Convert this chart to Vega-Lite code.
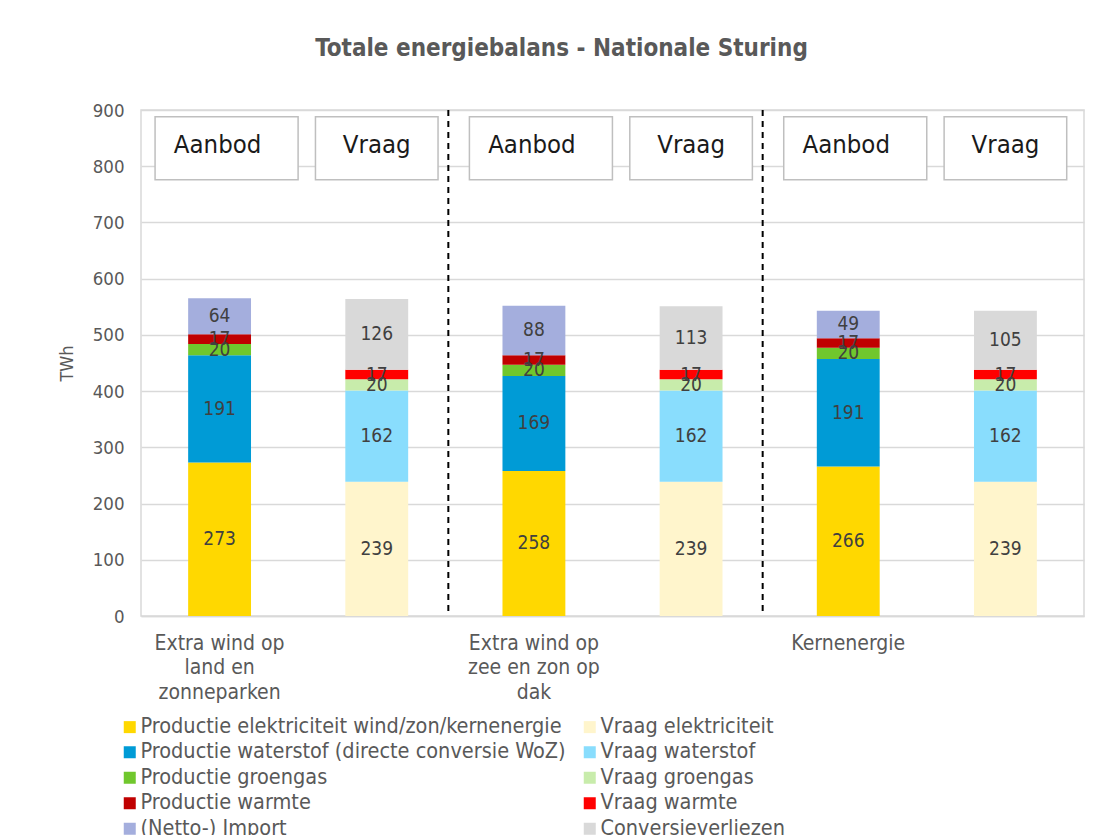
{
  "$schema": "https://vega.github.io/schema/vega-lite/v6.json",
  "width": 943,
  "height": 506,
  "padding": {"left": 58, "top": 37, "right": 16, "bottom": 0},
  "background": "white",
  "title": {
    "text": "Totale energiebalans - Nationale Sturing",
    "fontSize": 24,
    "font": "DejaVu Sans Condensed, DejaVu Sans, sans-serif",
    "fontWeight": "bold",
    "color": "#595959",
    "offset": 40,
    "dx": -51
  },
  "config": {
    "font": "DejaVu Sans Condensed, DejaVu Sans, sans-serif",
    "view": {"stroke": "#d9d9d9", "strokeWidth": 1.5}
  },
  "datasets": {
    "bars": [
      {"bar": "1", "cat": "Productie elektriciteit wind/zon/kernenergie", "order": 1, "value": 273},
      {"bar": "1", "cat": "Productie waterstof (directe conversie WoZ)", "order": 2, "value": 191},
      {"bar": "1", "cat": "Productie groengas", "order": 3, "value": 20},
      {"bar": "1", "cat": "Productie warmte", "order": 4, "value": 17},
      {"bar": "1", "cat": "(Netto-) Import", "order": 5, "value": 64},
      {"bar": "2", "cat": "Vraag elektriciteit", "order": 1, "value": 239},
      {"bar": "2", "cat": "Vraag waterstof", "order": 2, "value": 162},
      {"bar": "2", "cat": "Vraag groengas", "order": 3, "value": 20},
      {"bar": "2", "cat": "Vraag warmte", "order": 4, "value": 17},
      {"bar": "2", "cat": "Conversieverliezen", "order": 5, "value": 126},
      {"bar": "3", "cat": "Productie elektriciteit wind/zon/kernenergie", "order": 1, "value": 258},
      {"bar": "3", "cat": "Productie waterstof (directe conversie WoZ)", "order": 2, "value": 169},
      {"bar": "3", "cat": "Productie groengas", "order": 3, "value": 20},
      {"bar": "3", "cat": "Productie warmte", "order": 4, "value": 17},
      {"bar": "3", "cat": "(Netto-) Import", "order": 5, "value": 88},
      {"bar": "4", "cat": "Vraag elektriciteit", "order": 1, "value": 239},
      {"bar": "4", "cat": "Vraag waterstof", "order": 2, "value": 162},
      {"bar": "4", "cat": "Vraag groengas", "order": 3, "value": 20},
      {"bar": "4", "cat": "Vraag warmte", "order": 4, "value": 17},
      {"bar": "4", "cat": "Conversieverliezen", "order": 5, "value": 113},
      {"bar": "5", "cat": "Productie elektriciteit wind/zon/kernenergie", "order": 1, "value": 266},
      {"bar": "5", "cat": "Productie waterstof (directe conversie WoZ)", "order": 2, "value": 191},
      {"bar": "5", "cat": "Productie groengas", "order": 3, "value": 20},
      {"bar": "5", "cat": "Productie warmte", "order": 4, "value": 17},
      {"bar": "5", "cat": "(Netto-) Import", "order": 5, "value": 49},
      {"bar": "6", "cat": "Vraag elektriciteit", "order": 1, "value": 239},
      {"bar": "6", "cat": "Vraag waterstof", "order": 2, "value": 162},
      {"bar": "6", "cat": "Vraag groengas", "order": 3, "value": 20},
      {"bar": "6", "cat": "Vraag warmte", "order": 4, "value": 17},
      {"bar": "6", "cat": "Conversieverliezen", "order": 5, "value": 105}
    ],
    "dividers": [{"bar": "3"}, {"bar": "5"}],
    "aanbod": [{"bar": "1", "label": "Aanbod"}, {"bar": "3", "label": "Aanbod"}, {"bar": "5", "label": "Aanbod"}],
    "vraag": [{"bar": "2", "label": "Vraag"}, {"bar": "4", "label": "Vraag"}, {"bar": "6", "label": "Vraag"}]
  },
  "layer": [
    {
      "data": {"name": "bars"},
      "transform": [
        {"stack": "value", "groupby": ["bar"], "sort": [{"field": "order"}], "as": ["y0", "y1"]}
      ],
      "mark": {"type": "bar", "width": {"band": 0.4}},
      "encoding": {
        "x": {
          "field": "bar", "type": "nominal",
          "scale": {"domain": ["1", "2", "3", "4", "5", "6"], "paddingInner": 0, "paddingOuter": 0},
          "axis": {
            "title": null,
            "labelExpr": "datum.value == '1' ? ['Extra wind op', 'land en', 'zonneparken'] : datum.value == '3' ? ['Extra wind op', 'zee en zon op', 'dak'] : datum.value == '5' ? 'Kernenergie' : ''",
            "labelAngle": 0,
            "labelFontSize": 21,
            "labelColor": "#595959",
            "labelPadding": 16,
            "labelLineHeight": 24.5,
            "labelOverlap": false,
            "ticks": false,
            "domainColor": "#d9d9d9",
            "domainWidth": 1.5
          }
        },
        "y": {
          "field": "y0", "type": "quantitative",
          "scale": {"domain": [0, 900]},
          "axis": {
            "title": "TWh",
            "titleFontSize": 18,
            "titleFontWeight": "normal",
            "titleColor": "#595959",
            "titlePadding": 16,
            "values": [0, 100, 200, 300, 400, 500, 600, 700, 800, 900],
            "labelFontSize": 18.5,
            "labelColor": "#595959",
            "labelPadding": 17,
            "ticks": false,
            "domain": false,
            "gridColor": "#d9d9d9",
            "gridWidth": 1.5
          }
        },
        "y2": {"field": "y1"},
        "color": {
          "field": "cat", "type": "nominal",
          "scale": {
            "domain": [
              "Productie elektriciteit wind/zon/kernenergie", "Vraag elektriciteit",
              "Productie waterstof (directe conversie WoZ)", "Vraag waterstof",
              "Productie groengas", "Vraag groengas",
              "Productie warmte", "Vraag warmte",
              "(Netto-) Import", "Conversieverliezen"
            ],
            "range": [
              "#ffd800", "#fff5cc",
              "#009bd6", "#89ddfd",
              "#70c72d", "#c8ecab",
              "#c00000", "#ff0000",
              "#a4aedd", "#d9d9d9"
            ]
          },
          "legend": {
            "title": null,
            "orient": "none",
            "legendX": -22,
            "legendY": 606,
            "columns": 2,
            "direction": "horizontal",
            "symbolType": "square",
            "symbolSize": 144,
            "symbolStrokeWidth": 0,
            "labelFontSize": 21.5,
            "labelColor": "#595959",
            "labelOffset": 0,
            "labelLimit": 600,
            "rowPadding": 2.5,
            "columnPadding": 13
          }
        },
        "order": {"field": "order"}
      }
    },
    {
      "data": {"name": "bars"},
      "transform": [
        {"stack": "value", "groupby": ["bar"], "sort": [{"field": "order"}], "as": ["y0", "y1"]},
        {"calculate": "(datum.y0 + datum.y1) / 2", "as": "mid"}
      ],
      "mark": {"type": "text", "fontSize": 19, "color": "#404040", "baseline": "middle"},
      "encoding": {
        "x": {"field": "bar", "type": "nominal"},
        "y": {"field": "mid", "type": "quantitative"},
        "text": {"field": "value", "type": "quantitative"}
      }
    },
    {
      "data": {"name": "dividers"},
      "mark": {"type": "rule", "stroke": "black", "strokeWidth": 2, "strokeDash": [6, 5], "xOffset": -7},
      "encoding": {
        "x": {"field": "bar", "type": "nominal", "bandPosition": 0}
      }
    },
    {
      "data": {"name": "aanbod"},
      "mark": {"type": "bar", "width": {"band": 0.91}, "fill": "white", "stroke": "#bfbfbf", "strokeWidth": 1.5, "xOffset": 7},
      "encoding": {
        "x": {"field": "bar", "type": "nominal"},
        "y": {"datum": 776},
        "y2": {"datum": 888}
      }
    },
    {
      "data": {"name": "vraag"},
      "mark": {"type": "bar", "width": {"band": 0.78}, "fill": "white", "stroke": "#bfbfbf", "strokeWidth": 1.5},
      "encoding": {
        "x": {"field": "bar", "type": "nominal"},
        "y": {"datum": 776},
        "y2": {"datum": 888}
      }
    },
    {
      "data": {"name": "aanbod"},
      "mark": {"type": "text", "fontSize": 25.5, "color": "#1a1a1a", "baseline": "middle", "xOffset": -2},
      "encoding": {
        "x": {"field": "bar", "type": "nominal"},
        "y": {"datum": 838},
        "text": {"field": "label"}
      }
    },
    {
      "data": {"name": "vraag"},
      "mark": {"type": "text", "fontSize": 25.5, "color": "#1a1a1a", "baseline": "middle"},
      "encoding": {
        "x": {"field": "bar", "type": "nominal"},
        "y": {"datum": 838},
        "text": {"field": "label"}
      }
    }
  ]
}
